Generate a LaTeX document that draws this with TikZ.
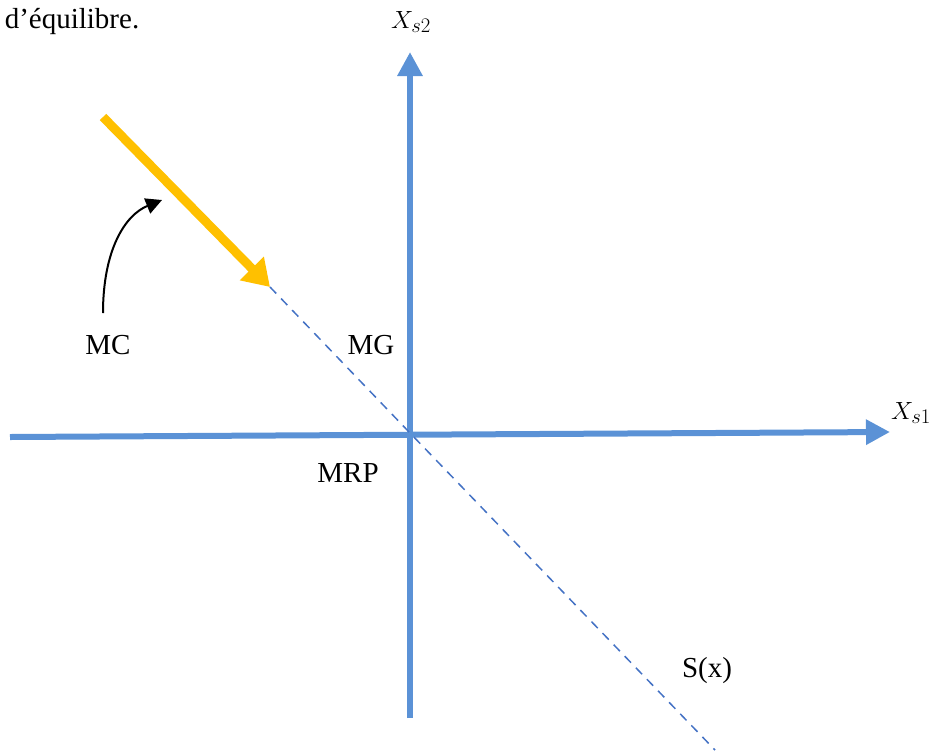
\documentclass[tikz,border=0pt]{standalone}
\usepackage{fontspec}
\setmainfont{Liberation Serif}
\usepackage{amsmath}
\usetikzlibrary{arrows.meta,positioning}
\definecolor{axisblue}{RGB}{91,146,214}
\definecolor{dashblue}{RGB}{68,114,196}
\definecolor{mcyellow}{RGB}{255,192,0}
\tikzset{
    axis/.style={draw=axisblue, line width=6pt, -{Triangle[length=24pt,width=24pt]}},
    lbl/.style={font=\fontsize{29}{34}\selectfont, inner sep=0pt}
}
\begin{document}
\begin{tikzpicture}[x=1pt, y=-1pt]
    \useasboundingbox (0,0) rectangle (934,753);
    % axes
    \coordinate (xl) at (10,437);
    \coordinate (xr) at (890,432);
    \coordinate (yb) at (410,718);
    \coordinate (yt) at (410,52);
    \coordinate (o) at (410,433);
    \draw[axis] (xl) -- (xr);
    \draw[axis] (yb) -- (yt);
    \node[lbl] (xs1) at (911,413) {$X_{s1}$};
    \node[lbl] (xs2) at (411,22) {$X_{s2}$};
    % S(x) line and MC arrow
    \coordinate (mc) at (270,287);
    \coordinate (se) at (715,750);
    \coordinate (ms) at (103,117);
    \draw[dashblue, line width=1.5pt, dash pattern=on 9pt off 7pt] (mc) -- (o) -- (se);
    \draw[mcyellow, line width=9pt, -{Triangle[length=26pt,width=32pt]}] (ms) -- (mc);
    \coordinate (cs) at (103,313);
    \coordinate (ce) at (162,200);
    \draw[line width=2pt, -{Triangle[length=16pt,width=16pt]}] (cs) .. controls (103,250) and (125,215) .. (ce);
    % labels
    \node[lbl] (tmc) at (108,345) {MC};
    \node[lbl] (tmg) at (371,345) {MG};
    \node[lbl] (tmrp) at (348,473) {MRP};
    \node[lbl] (tsx) at (707,671) {S(x)};
    \node[lbl] (txt) at (72,22) {d’équilibre.};
\end{tikzpicture}
\end{document}
